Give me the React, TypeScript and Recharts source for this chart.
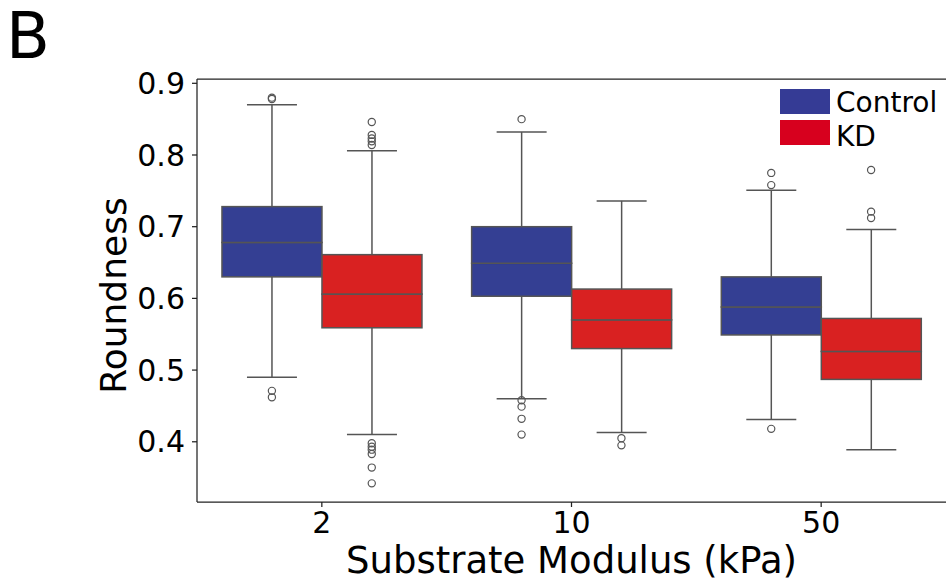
import React from 'react';
import { ComposedChart, Bar, Scatter, XAxis, YAxis, ReferenceLine } from 'recharts';

// box statistics, one entry per substrate modulus
const categories = ['2', '10', '50'];

const controlLow = [0.49, 0.46, 0.431];
const controlQ1 = [0.63, 0.603, 0.549];
const controlMedian = [0.678, 0.649, 0.588];
const controlQ3 = [0.728, 0.7, 0.63];
const controlHigh = [0.87, 0.832, 0.751];

const kdLow = [0.41, 0.413, 0.389];
const kdQ1 = [0.559, 0.53, 0.487];
const kdMedian = [0.606, 0.57, 0.526];
const kdQ3 = [0.661, 0.613, 0.572];
const kdHigh = [0.806, 0.736, 0.696];

const controlOutliers = [
  [0.88, 0.878, 0.471, 0.462],
  [0.85, 0.458, 0.449, 0.432, 0.41],
  [0.775, 0.758, 0.418],
];
const kdOutliers = [
  [0.846, 0.828, 0.823, 0.819, 0.814, 0.398, 0.393, 0.389, 0.383, 0.364, 0.342],
  [0.405, 0.395],
  [0.779, 0.721, 0.712],
];

const yTicks = [0.4, 0.5, 0.6, 0.7, 0.8, 0.9];
const Y_MIN = 0.316;
const Y_MAX = 0.906;

const FONT = '"DejaVu Sans", sans-serif';
const BLUE = '#343f93';
const RED = '#d92121';
const LINE = '#555555';
const SPINE = '#222222';
const DODGE = 0.2; // hue offset inside a category, in category units

const rows = categories.map((category, i) => ({
  category,
  cBase: controlLow[i],
  cWLo: controlQ1[i] - controlLow[i],
  cBoxLo: controlMedian[i] - controlQ1[i],
  cBoxHi: controlQ3[i] - controlMedian[i],
  cWHi: controlHigh[i] - controlQ3[i],
  kBase: kdLow[i],
  kWLo: kdQ1[i] - kdLow[i],
  kBoxLo: kdMedian[i] - kdQ1[i],
  kBoxHi: kdQ3[i] - kdMedian[i],
  kWHi: kdHigh[i] - kdQ3[i],
}));

const controlFliers = controlOutliers.flatMap((vals, i) => vals.map((y) => ({ x: i - DODGE, y })));
const kdFliers = kdOutliers.flatMap((vals, i) => vals.map((y) => ({ x: i + DODGE, y })));

const Empty = () => <g />;

const LowerWhisker = (p: any) => {
  const cx = p.x + p.width / 2;
  const bottom = p.y + p.height;
  return (
    <g stroke={LINE} strokeWidth={1.5}>
      <line x1={cx} y1={p.y} x2={cx} y2={bottom} />
      <line x1={p.x + p.width / 4} y1={bottom} x2={p.x + (p.width * 3) / 4} y2={bottom} />
    </g>
  );
};

const UpperWhisker = (p: any) => {
  const cx = p.x + p.width / 2;
  return (
    <g stroke={LINE} strokeWidth={1.5}>
      <line x1={cx} y1={p.y} x2={cx} y2={p.y + p.height} />
      <line x1={p.x + p.width / 4} y1={p.y} x2={p.x + (p.width * 3) / 4} y2={p.y} />
    </g>
  );
};

const boxShape = (color: string) => (p: any) => (
  <rect x={p.x} y={p.y} width={p.width} height={p.height} fill={color} stroke={LINE} strokeWidth={1.5} />
);

const Flier = (p: any) => (
  <circle cx={p.cx} cy={p.cy} r={3.6} fill="none" stroke={LINE} strokeWidth={1.2} />
);

const App: React.FC = () => {
  return (
    <div style={{ position: 'absolute', left: 0, top: 0, width: 946, height: 581, background: '#fff' }}>
      <ComposedChart
        width={946}
        height={581}
        data={rows}
        margin={{ top: 79, right: 0, bottom: 0, left: 0 }}
        barCategoryGap="10%"
        barGap={0}
      >
        <XAxis
          xAxisId={0}
          dataKey="category"
          height={79}
          tickSize={5}
          tickMargin={5}
          stroke={SPINE}
          strokeWidth={1.25}
          tick={{ fill: '#000', fontSize: 30, fontFamily: FONT }}
          label={{
            value: 'Substrate Modulus (kPa)',
            position: 'insideBottom',
            offset: 8,
            fill: '#000',
            fontSize: 37,
            fontFamily: FONT,
          }}
        />
        <XAxis
          xAxisId="num"
          dataKey="x"
          type="number"
          domain={[-0.5, 2.5]}
          allowDataOverflow
          hide
        />
        <YAxis
          dataKey="y"
          type="number"
          domain={[Y_MIN, Y_MAX]}
          allowDataOverflow
          ticks={yTicks}
          tickFormatter={(v: number) => v.toFixed(1)}
          width={197}
          tickSize={5}
          tickMargin={7}
          stroke={SPINE}
          strokeWidth={1.25}
          tick={{ fill: '#000', fontSize: 30, fontFamily: FONT }}
          label={{
            value: 'Roundness',
            angle: -90,
            position: 'center',
            dx: 15,
            dy: 5,
            fill: '#000',
            fontSize: 36,
            fontFamily: FONT,
          }}
        />

        {/* top spine */}
        <ReferenceLine y={Y_MAX} stroke={SPINE} strokeWidth={1.25} />

        <Bar dataKey="cBase" stackId="control" shape={Empty} isAnimationActive={false} />
        <Bar dataKey="cWLo" stackId="control" shape={LowerWhisker} isAnimationActive={false} />
        <Bar dataKey="cBoxLo" stackId="control" shape={boxShape(BLUE)} isAnimationActive={false} />
        <Bar dataKey="cBoxHi" stackId="control" shape={boxShape(BLUE)} isAnimationActive={false} />
        <Bar dataKey="cWHi" stackId="control" shape={UpperWhisker} isAnimationActive={false} />

        <Bar dataKey="kBase" stackId="kd" shape={Empty} isAnimationActive={false} />
        <Bar dataKey="kWLo" stackId="kd" shape={LowerWhisker} isAnimationActive={false} />
        <Bar dataKey="kBoxLo" stackId="kd" shape={boxShape(RED)} isAnimationActive={false} />
        <Bar dataKey="kBoxHi" stackId="kd" shape={boxShape(RED)} isAnimationActive={false} />
        <Bar dataKey="kWHi" stackId="kd" shape={UpperWhisker} isAnimationActive={false} />

        <Scatter xAxisId="num" data={controlFliers} dataKey="y" shape={Flier} isAnimationActive={false} />
        <Scatter xAxisId="num" data={kdFliers} dataKey="y" shape={Flier} isAnimationActive={false} />
      </ComposedChart>

      <svg
        width={946}
        height={581}
        style={{ position: 'absolute', left: 0, top: 0, pointerEvents: 'none' }}
        fontFamily={FONT}
      >
        <text x={6} y={58} fontSize={64} fill="#000">B</text>
        <rect x={780} y={89} width={50} height={25} fill="#353b95" />
        <rect x={780} y={120} width={50} height={25} fill="#d7001e" />
        <text x={836} y={112} fontSize={28} fill="#000">Control</text>
        <text x={836} y={146} fontSize={28} fill="#000">KD</text>
      </svg>
    </div>
  );
};

export default App;
